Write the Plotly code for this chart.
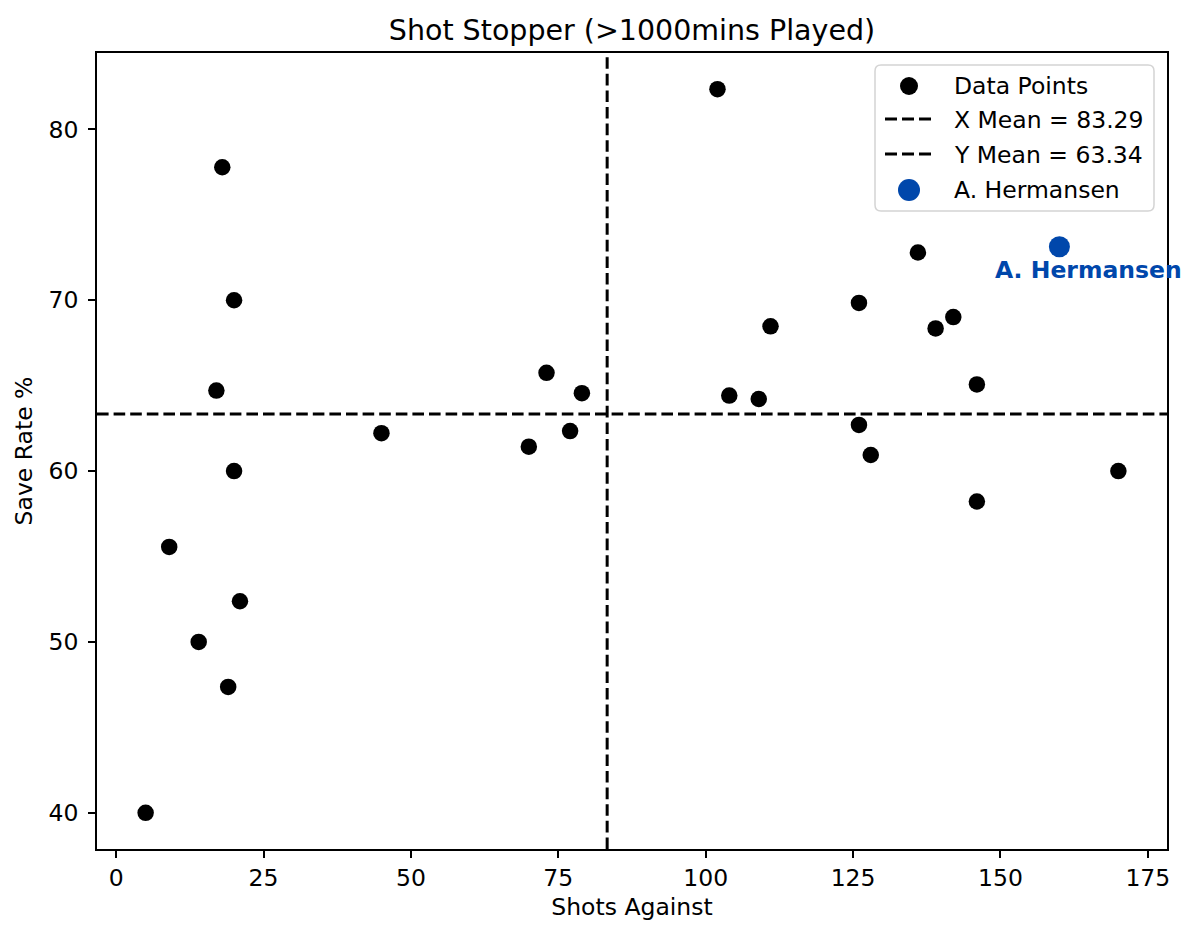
import numpy as np
import plotly.graph_objects as go

# ---- data ----
shots_against = [5, 9, 14, 19, 21, 20, 17, 20, 18, 45, 70, 73, 77, 79,
                 102, 104, 109, 111, 126, 126, 128, 136, 139, 142, 146, 146, 170]
save_rate = [40.00, 55.56, 50.00, 47.37, 52.38, 60.00, 64.71, 70.00, 77.78, 62.22,
             61.43, 65.75, 62.34, 64.56, 82.35, 64.42, 64.22, 68.47, 69.84, 62.70,
             60.94, 72.79, 68.35, 69.01, 65.07, 58.22, 60.00]
highlight_name = "A. Hermansen"
highlight_shots = [160]
highlight_save = [73.13]

x_ticks = [0, 25, 50, 75, 100, 125, 150, 175]
y_ticks = [40, 50, 60, 70, 80]

title_text = "Shot Stopper (>1000mins Played)"
x_label = "Shots Against"
y_label = "Save Rate %"

# ---- derived ----
all_x = np.array(shots_against + highlight_shots, dtype=float)
all_y = np.array(save_rate + highlight_save, dtype=float)
x_mean = all_x.mean()
y_mean = all_y.mean()

def padded(vals, frac=0.05):
    lo, hi = vals.min(), vals.max()
    d = (hi - lo) * frac
    return [lo - d, hi + d]

x_range = padded(all_x)
y_range = padded(all_y)

FONT = "DejaVu Sans"
FS = 23.5
BLUE = "#0047AB"
DASH = "11.6px,5px"

W, H = 1200, 939
ML, MR, MT, MB = 97, 33, 53, 90
PW, PH = W - ML - MR, H - MT - MB

def px(xp):  # pixel -> paper x
    return (xp - ML) / PW

def py(yp):  # pixel -> paper y
    return (H - MB - yp) / PH

fig = go.Figure()
fig.add_trace(go.Scatter(
    x=all_x, y=all_y, mode="markers", name="Data Points",
    marker=dict(color="black", size=16.5, line=dict(width=0)),
    showlegend=False,
))
fig.add_trace(go.Scatter(
    x=[x_mean, x_mean], y=y_range, mode="lines",
    name=f"X Mean = {x_mean:.2f}",
    line=dict(color="black", width=3, dash=DASH),
    showlegend=False,
))
fig.add_trace(go.Scatter(
    x=x_range, y=[y_mean, y_mean], mode="lines",
    name=f"Y Mean = {y_mean:.2f}",
    line=dict(color="black", width=3, dash=DASH),
    showlegend=False,
))
fig.add_trace(go.Scatter(
    x=highlight_shots, y=highlight_save, mode="markers", name=highlight_name,
    marker=dict(color=BLUE, size=21, line=dict(width=0)),
    showlegend=False,
))

fig.add_annotation(
    x=highlight_shots[0], y=highlight_save[0], text=f"<b>{highlight_name}</b>",
    showarrow=False, xshift=29, yshift=-23,
    font=dict(family=FONT, size=FS, color=BLUE),
)

# ---- custom legend (matplotlib-like box) ----
bx0, bx1, by0, by1, r = 875, 1154, 65, 211, 6
path = (f"M {px(bx0 + r)},{py(by0)} L {px(bx1 - r)},{py(by0)} "
        f"Q {px(bx1)},{py(by0)} {px(bx1)},{py(by0 + r)} "
        f"L {px(bx1)},{py(by1 - r)} Q {px(bx1)},{py(by1)} {px(bx1 - r)},{py(by1)} "
        f"L {px(bx0 + r)},{py(by1)} Q {px(bx0)},{py(by1)} {px(bx0)},{py(by1 - r)} "
        f"L {px(bx0)},{py(by0 + r)} Q {px(bx0)},{py(by0)} {px(bx0 + r)},{py(by0)} Z")
fig.add_shape(type="path", path=path, xref="paper", yref="paper",
              fillcolor="rgba(255,255,255,0.8)", line=dict(color="#d4d4d4", width=1.5),
              layer="above")

legend_entries = [
    ("Data Points", "dot", "black", 18),
    (f"X Mean = {x_mean:.2f}", "dash", "black", 0),
    (f"Y Mean = {y_mean:.2f}", "dash", "black", 0),
    (highlight_name, "dot", BLUE, 22),
]
row_y = [86, 120, 155, 190]
sym_cx, txt_x = 909, 952
for (label, kind, color, size), ry in zip(legend_entries, row_y):
    if kind == "dot":
        fig.add_shape(type="circle", xref="paper", yref="paper",
                      x0=px(sym_cx - size / 2), x1=px(sym_cx + size / 2),
                      y0=py(ry + size / 2), y1=py(ry - size / 2),
                      fillcolor=color, line=dict(width=0), layer="above")
    else:
        fig.add_shape(type="line", xref="paper", yref="paper",
                      x0=px(885), x1=px(934), y0=py(ry - 1), y1=py(ry - 1),
                      line=dict(color=color, width=3, dash="12px,5px"), layer="above")
    fig.add_annotation(x=px(txt_x), y=py(ry), xref="paper", yref="paper",
                       xanchor="left", yanchor="middle", showarrow=False,
                       text=label, font=dict(family=FONT, size=FS, color="black"))

axis_common = dict(
    showline=True, linecolor="black", linewidth=1.7, mirror=True,
    ticks="outside", ticklen=7, tickwidth=1.7, tickcolor="black",
    showgrid=False, zeroline=False,
    tickfont=dict(family=FONT, size=FS, color="black"),
)

fig.update_layout(
    width=W, height=H,
    margin=dict(l=ML, r=MR, t=MT, b=MB),
    paper_bgcolor="white", plot_bgcolor="white",
    font=dict(family=FONT, size=FS, color="black"),
    title=dict(text=title_text, x=0.5, xref="paper", xanchor="center",
               y=1 - 30 / H, yanchor="middle",
               font=dict(family=FONT, size=28.5, color="black")),
    xaxis=dict(range=x_range, tickvals=x_ticks,
               title=dict(text=x_label, font=dict(family=FONT, size=FS), standoff=8),
               **axis_common),
    yaxis=dict(range=y_range, tickvals=y_ticks, ticklabelstandoff=5,
               title=dict(text=y_label, font=dict(family=FONT, size=FS), standoff=9),
               **axis_common),
    showlegend=False,
)

fig.write_html("out.html")
